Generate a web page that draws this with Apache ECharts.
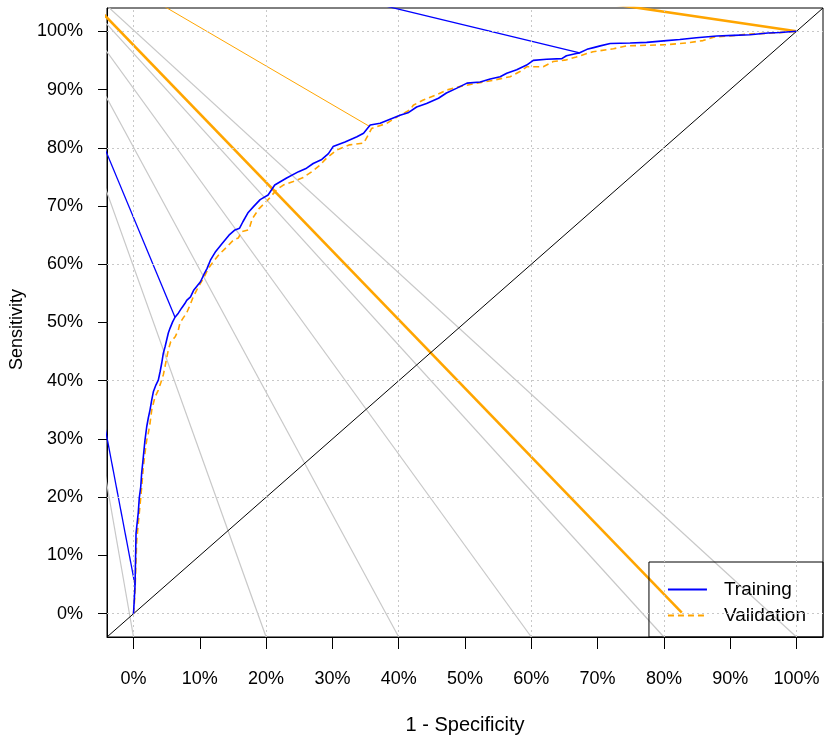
<!DOCTYPE html>
<html><head><meta charset="utf-8">
<script src="https://cdn.jsdelivr.net/npm/echarts@6/dist/echarts.min.js"></script>
<style>html,body{margin:0;padding:0;background:#fff}#c{width:830px;height:738px}</style>
</head><body><div id="c"></div>
<script>
// Tick labels (percent)
const xTicks = [0,10,20,30,40,50,60,70,80,90,100];
const yTicks = [0,10,20,30,40,50,60,70,80,90,100];
const gridValues = [0,20,40,60,80,100];

// ROC curves: [1 - specificity %, sensitivity %]
const training = [[0,0],[0.23,4.9],[0.38,13.8],[0.72,17.4],[0.87,19.9],[1.09,21.8],[1.24,24.3],[1.39,25.9],[1.58,28.1],[1.73,29.8],[1.99,32.1],[2.23,33.6],[2.49,35.0],[2.75,36.7],[2.99,38.1],[3.39,39.3],[3.74,40.1],[4.0,41.5],[4.25,43.0],[4.49,44.7],[4.75,45.8],[5.0,47.0],[5.25,48.2],[5.5,49.0],[5.9,50.1],[6.26,50.9],[6.76,51.6],[7.27,52.5],[7.77,53.3],[8.02,53.8],[8.6,54.4],[9.1,55.6],[10.1,57.0],[10.6,58.2],[11.1,59.3],[11.6,60.7],[12.4,62.2],[13.4,63.6],[14.4,65.0],[15.3,65.9],[16.0,66.2],[16.5,67.3],[17.3,68.9],[18.1,69.9],[19.1,71.1],[20.3,71.9],[21.3,73.6],[23.1,74.8],[24.9,75.9],[26.1,76.5],[27.1,77.3],[28.4,78.0],[29.4,79.0],[30.1,80.2],[31.9,81.0],[33.7,81.9],[34.7,82.5],[35.7,83.9],[37.2,84.2],[38.7,84.9],[40.2,85.6],[41.4,86.0],[42.7,87.0],[44.2,87.6],[46.0,88.5],[47.2,89.4],[48.7,90.2],[50.3,91.1],[52.3,91.3],[53.8,91.8],[55.3,92.2],[56.3,92.8],[57.8,93.4],[59.3,94.2],[60.3,95.0],[62.3,95.2],[64.6,95.3],[65.3,95.8],[66.8,96.2],[67.3,96.3],[68.4,96.9],[69.4,97.2],[70.4,97.5],[71.9,97.9],[74.9,98.0],[77.4,98.1],[80.4,98.4],[82.4,98.6],[84.9,98.9],[88.0,99.2],[90.5,99.3],[93.0,99.4],[95.7,99.7],[97.5,99.8],[100,100]];
const validation = [[0,0],[0.2,3.0],[0.48,12.5],[0.63,14.4],[0.87,17.3],[1.24,21.8],[1.48,25.2],[1.73,27.6],[1.99,29.8],[2.23,31.0],[2.49,32.7],[2.75,35.0],[2.99,36.1],[3.24,37.2],[3.74,38.4],[4.1,39.6],[4.49,41.0],[4.75,42.4],[5.0,43.9],[5.25,45.3],[5.61,46.7],[6.26,47.5],[6.76,48.7],[7.0,49.9],[7.5,50.8],[8.0,51.6],[8.6,53.2],[9.0,54.4],[9.77,56.1],[10.6,57.7],[11.3,59.3],[12.0,60.4],[13.0,61.8],[14.1,63.0],[15.1,64.2],[15.8,64.5],[16.3,65.6],[17.4,65.9],[17.9,67.8],[18.9,69.5],[20.3,71.1],[21.6,72.8],[22.6,73.6],[24.1,74.2],[25.6,74.9],[26.9,75.9],[28.1,77.0],[29.1,78.2],[30.6,79.6],[32.6,80.5],[34.7,80.8],[35.4,82.2],[35.9,83.3],[38.2,84.2],[40.2,85.6],[41.7,86.5],[42.2,87.3],[43.7,88.2],[45.5,89.0],[47.2,89.9],[49.2,90.5],[51.8,91.1],[54.3,91.6],[56.8,92.2],[58.3,93.1],[59.3,93.9],[61.8,93.9],[63.3,94.8],[65.3,95.1],[66.8,95.6],[69.3,96.5],[72.4,97.0],[74.4,97.5],[77.4,97.6],[80.4,97.7],[83.4,98.0],[85.9,98.4],[87.5,99.0],[90.0,99.2],[92.5,99.5],[96.5,99.7],[100,100]];

// Reference diagonal
const chanceLine = [[-4,-4],[104,104]];

// Stray segments in the original figure all start from one off-plot point
const strayOrigin = [-19, 120];
const grayTargets = [[0,-4],[20,-4],[40,-4],[60,-4],[80,-4],[100,-4]];
const blueTargets = [[0.23,4.9],[6.26,50.9],[67.3,96.3]];
const orangeThinTargets = [[35.7,83.6]];
const orangeThickTargets = [[100,100],[82.7,0.2]];

const FONT = 'Liberation Sans, Arial, sans-serif';
const BLUE = '#0000FF', ORANGE = '#FFA500', GRAY = '#C8C8C8';

function straySeries(targets, color, width) {
  return targets.map(t => ({
    type: 'line', data: [strayOrigin, t], symbol: 'none', silent: true,
    clip: true, lineStyle: {color: color, width: width}, z: 2
  }));
}

const series = [];
series.push(...straySeries(grayTargets, GRAY, 1.2));
series.push({
  type: 'line', data: chanceLine, symbol: 'none', silent: true, clip: true,
  lineStyle: {color: '#000', width: 1}, z: 3,
  markLine: {
    silent: true, symbol: ['none','none'], label: {show: false},
    lineStyle: {color: '#C8C8C8', type: [2, 3], width: 1},
    data: gridValues.map(v => ({xAxis: v})).concat(gridValues.map(v => ({yAxis: v})))
  }
});
series.push(...straySeries(blueTargets, BLUE, 1.3));
series.push(...straySeries(orangeThinTargets, ORANGE, 1));
series.push(...straySeries(orangeThickTargets, ORANGE, 2.6));
series.push({
  name: 'Training', type: 'line', data: training, symbol: 'none', clip: true,
  lineStyle: {color: BLUE, width: 1.6}, itemStyle: {color: BLUE}, z: 5
});
series.push({
  name: 'Validation', type: 'line', data: validation, symbol: 'none', clip: true,
  lineStyle: {color: ORANGE, width: 1.6, type: [6, 4]}, itemStyle: {color: ORANGE}, z: 4
});

const chart = echarts.init(document.getElementById('c'), null, {renderer: 'canvas'});
chart.setOption({
  animation: false,
  backgroundColor: '#fff',
  grid: {left: 107, top: 8, width: 716, height: 629, show: true, borderColor: '#000', borderWidth: 1, backgroundColor: 'transparent', containLabel: false, outerBoundsMode: 'none'},
  xAxis: {
    type: 'value', min: -4, max: 104,
    axisLine: {show: true, onZero: false, lineStyle: {color: '#000', width: 1}},
    axisTick: {show: true, customValues: xTicks, length: 12, lineStyle: {color: '#000'}},
    axisLabel: {customValues: xTicks, formatter: v => v + '%', margin: 33, fontSize: 18, color: '#000', fontFamily: FONT},
    splitLine: {show: false},
    name: '1 - Specificity', nameLocation: 'middle', nameGap: 78,
    nameTextStyle: {fontSize: 20, color: '#000', fontFamily: FONT}
  },
  yAxis: {
    type: 'value', min: -4, max: 104,
    axisLine: {show: true, onZero: false, lineStyle: {color: '#000', width: 1}},
    axisTick: {show: true, customValues: yTicks, length: 9, lineStyle: {color: '#000'}},
    axisLabel: {customValues: yTicks, formatter: v => v + '%', margin: 24, fontSize: 18, color: '#000', fontFamily: FONT, padding: [4, 0, 0, 0]},
    splitLine: {show: false},
    name: 'Sensitivity', nameLocation: 'middle', nameGap: 73, nameRotate: 90,
    nameTextStyle: {fontSize: 18, color: '#000', fontFamily: FONT, padding: [0, 14, 0, 0]}
  },
  legend: {
    data: ['Training', 'Validation'], orient: 'vertical', right: 7, bottom: 101,
    itemWidth: 39, itemHeight: 14, itemGap: 7, padding: [18, 17, 12, 18],
    borderColor: '#000', borderWidth: 1, borderRadius: 0, backgroundColor: 'transparent',
    itemStyle: {opacity: 0},
    textStyle: {fontSize: 19, color: '#000', fontFamily: FONT, padding: [8, 0, 0, 12], lineHeight: 6},
    selectedMode: false
  },
  series: series
});
</script></body></html>
